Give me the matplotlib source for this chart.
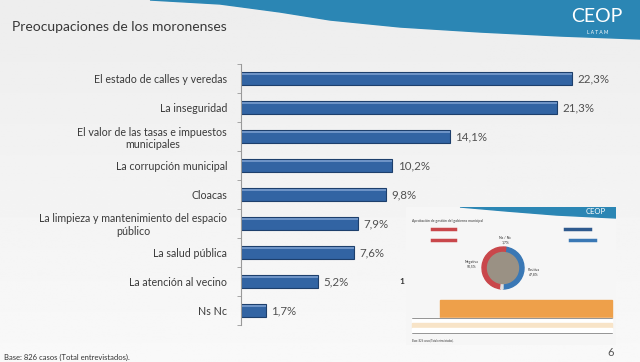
import numpy as np
import matplotlib
matplotlib.use('Agg')
import matplotlib.pyplot as plt
from matplotlib.patches import Polygon, Rectangle, Wedge

plt.rcParams['font.family'] = ['Lato', 'DejaVu Sans']

categorias = ['El estado de calles y veredas',
              'La inseguridad',
              'El valor de las tasas e impuestos\nmunicipales',
              'La corrupción municipal',
              'Cloacas',
              'La limpieza y mantenimiento del espacio\npúblico',
              'La salud pública',
              'La atención al vecino',
              'Ns Nc']
valores = [22.3, 21.3, 14.1, 10.2, 9.8, 7.9, 7.6, 5.2, 1.7]
etiquetas = ['22,3%', '21,3%', '14,1%', '10,2%', '9,8%', '7,9%', '7,6%', '5,2%', '1,7%']

# miniatura de la otra diapositiva (aprobacion de gestion)
dona_vals = [47.8, 50.5, 1.7]
dona_cols = ['#3a78b5', '#c9474b', '#e0e0e0']
dona_txt = ['Positiva\n47,8%', 'Negativa\n50,5%', 'Ns / Nc\n1,7%']

W, H = 640, 362
fig = plt.figure(figsize=(W/100, H/100), dpi=100)

# fondo
bg = fig.add_axes([0, 0, 1, 1])
bg.set_xlim(0, W)
bg.set_ylim(H, 0)
bg.axis('off')
grad = np.linspace(0.93, 0.975, 256)[:, None] * np.ones((1, 2))
bg.imshow(grad, extent=[0, W, H, 0], cmap='gray', vmin=0, vmax=1, aspect='auto', zorder=0)
swoosh = [(150, 0), (220, 4), (280, 12), (330, 20), (400, 27), (480, 32), (560, 36), (640, 39), (640, 0)]
bg.add_patch(Polygon(swoosh, closed=True, color='#2b86b4', zorder=1))
bg.text(597, 16, 'CEOP', color='white', fontsize=14, ha='center', va='center', zorder=2)
bg.text(598, 32, 'L A T A M', color='white', fontsize=3.5, ha='center', va='center', zorder=2)
bg.text(12, 27, 'Preocupaciones de los moronenses', color='#383838', fontsize=10, va='center')
bg.text(4, 357, 'Base: 826 casos (Total entrevistados).', color='#333333', fontsize=5.5, va='center')
bg.text(611, 352, '6', color='#555555', fontsize=8, ha='center', va='center')
bg.text(402, 281, '1', color='#333333', fontsize=6, fontweight='bold', ha='center', va='center')

# grafico principal
x0, x1 = 241, 241 + 26 * 14.84
y0, y1 = 64, 325
ax = fig.add_axes([x0/W, 1 - y1/H, (x1 - x0)/W, (y1 - y0)/H])
ax.patch.set_alpha(0)
pos = np.arange(len(categorias))
ax.barh(pos, valores, height=0.48, color='#3264a3', edgecolor='#1d3f6c', linewidth=0.8)
# brillo superior de las barras
ax.barh(pos - 0.17, valores, height=0.07, color='#6d93c6', linewidth=0)
for p, v, t in zip(pos, valores, etiquetas):
    ax.text(v + 0.35, p, t, va='center', ha='left', fontsize=8.3, color='#505050')
ax.set_xlim(0, 26)
ax.set_ylim(len(categorias) - 0.5, -0.5)
ax.set_yticks(pos)
ax.set_yticklabels(categorias, fontsize=7.7, color='#3a3a3a')
for lab in ax.get_yticklabels():
    lab.set_multialignment('center')
ax.set_yticks(np.arange(-0.5, len(categorias), 1), minor=True)
ax.tick_params(axis='y', which='major', length=0, pad=10)
ax.tick_params(axis='y', which='minor', length=3, color='#999999')
ax.set_xticks([])
for s in ['top', 'right', 'bottom']:
    ax.spines[s].set_visible(False)
ax.spines['left'].set_color('#999999')

# miniatura superpuesta
ins = fig.add_axes([406/W, 1 - 345/H, 210/W, 138/H])
ins.set_xlim(0, 210)
ins.set_ylim(138, 0)
ins.axis('off')
ins.add_patch(Rectangle((0, 0), 210, 138, color='#f6f6f6', zorder=0))
ins.add_patch(Polygon([(54, 0), (100, 4), (150, 8), (210, 11), (210, 0)], closed=True, color='#2b86b4', zorder=1))
ins.text(190, 5, 'CEOP', color='white', fontsize=5.5, ha='center', va='center', zorder=2)
ins.text(6, 14, 'Aprobación de gestión del gobierno municipal', fontsize=2.5, color='#333333', va='center')
ins.plot([26, 49], [22, 22], color='#c9474b', lw=2.5)
ins.plot([26, 49], [33, 33], color='#c9474b', lw=2.5)
ins.plot([159, 184], [22, 22], color='#2f5a8e', lw=2.5)
ins.plot([164, 189], [33, 33], color='#3a78b5', lw=2.5)
cx, cy, r = 97, 61, 21
ang = 90
for v, c in zip(dona_vals, dona_cols):
    span = 360 * v / sum(dona_vals)
    ins.add_patch(Wedge((cx, cy), r, ang - span, ang, width=5.5, color=c, zorder=2))
    ang -= span
ins.add_patch(Wedge((cx, cy), 15.5, 0, 360, color='#9a9184', zorder=2))
ins.text(cx + 31, cy + 4, dona_txt[0], fontsize=2.5, color='#333333', ha='center', va='center')
ins.text(cx - 31, cy - 4, dona_txt[1], fontsize=2.5, color='#333333', ha='center', va='center')
ins.text(cx + 2, cy - 28, dona_txt[2], fontsize=2.5, color='#333333', ha='center', va='center')
ins.add_patch(Rectangle((34, 93), 172, 18, color='#eea04a', zorder=1))
for k, c in enumerate(['#ffffff', '#f8e4c8', '#ffffff']):
    ins.add_patch(Rectangle((6, 111 + k * 5), 200, 5, color=c, zorder=1))
ins.plot([6, 206], [111, 111], color='#444444', lw=0.4)
ins.plot([6, 206], [126, 126], color='#444444', lw=0.4)
ins.text(6, 133, 'Base: 826 casos (Total entrevistados).', fontsize=1.8, color='#333333', va='center')

fig.savefig('out.png', dpi=100)
